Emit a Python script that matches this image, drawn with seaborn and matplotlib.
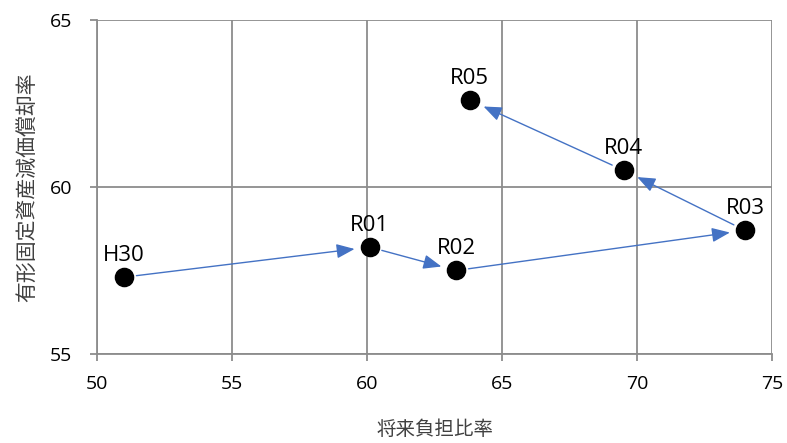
import matplotlib
matplotlib.use("Agg")
import matplotlib.pyplot as plt
import seaborn as sns
import pandas as pd

# data
labels = ["H30", "R01", "R02", "R03", "R04", "R05"]
future_burden = [51.0, 60.1, 63.3, 74.0, 69.5, 63.8]
depreciation = [57.3, 58.2, 57.5, 58.7, 60.5, 62.6]

df = pd.DataFrame({"label": labels, "x": future_burden, "y": depreciation})

sns.set_theme(style="white")
plt.rcParams["font.family"] = ["Open Sans", "Noto Sans CJK JP", "DejaVu Sans"]

fig = plt.figure(figsize=(7.87, 4.43), dpi=100)
ax = fig.add_axes([0.1233, 0.2009, 0.8577, 0.754])

# arrows from each year to the next
for i in range(len(df) - 1):
    ax.annotate("", xy=(df.x[i + 1], df.y[i + 1]), xytext=(df.x[i], df.y[i]),
                arrowprops=dict(arrowstyle="-|>,head_length=0.55,head_width=0.22",
                                color="#4472C4", lw=1, mutation_scale=20,
                                shrinkA=9, shrinkB=11),
                zorder=2)

sns.scatterplot(data=df, x="x", y="y", s=170, color="black", edgecolor="black",
                ax=ax, zorder=3, legend=False)

for _, r in df.iterrows():
    ax.annotate(r.label, (r.x, r.y), xytext=(0, 8), textcoords="offset points",
                ha="center", va="bottom", fontsize=16, color="black")

ax.set_xlim(50, 75)
ax.set_ylim(55, 65)
ax.set_xticks(range(50, 76, 5))
ax.set_yticks([55, 60, 65])
ax.grid(True, color="#8c8c8c", lw=1.3)
for s in ["top", "right"]:
    ax.spines[s].set_visible(False)
for s in ["left", "bottom"]:
    ax.spines[s].set_color("#8c8c8c")
    ax.spines[s].set_linewidth(1.3)
ax.tick_params(axis="both", direction="out", length=5, width=1.3, color="#8c8c8c",
               labelsize=14, labelcolor="black", bottom=True, left=True)
ax.tick_params(axis="x", pad=10)
ax.tick_params(axis="y", pad=13)

ax.set_xlabel("将来負担比率", fontsize=14, color="#404040", labelpad=20)
ax.set_ylabel("有形固定資産減価償却率", fontsize=15, color="#404040", labelpad=8)

fig.savefig("out.png", dpi=100)
